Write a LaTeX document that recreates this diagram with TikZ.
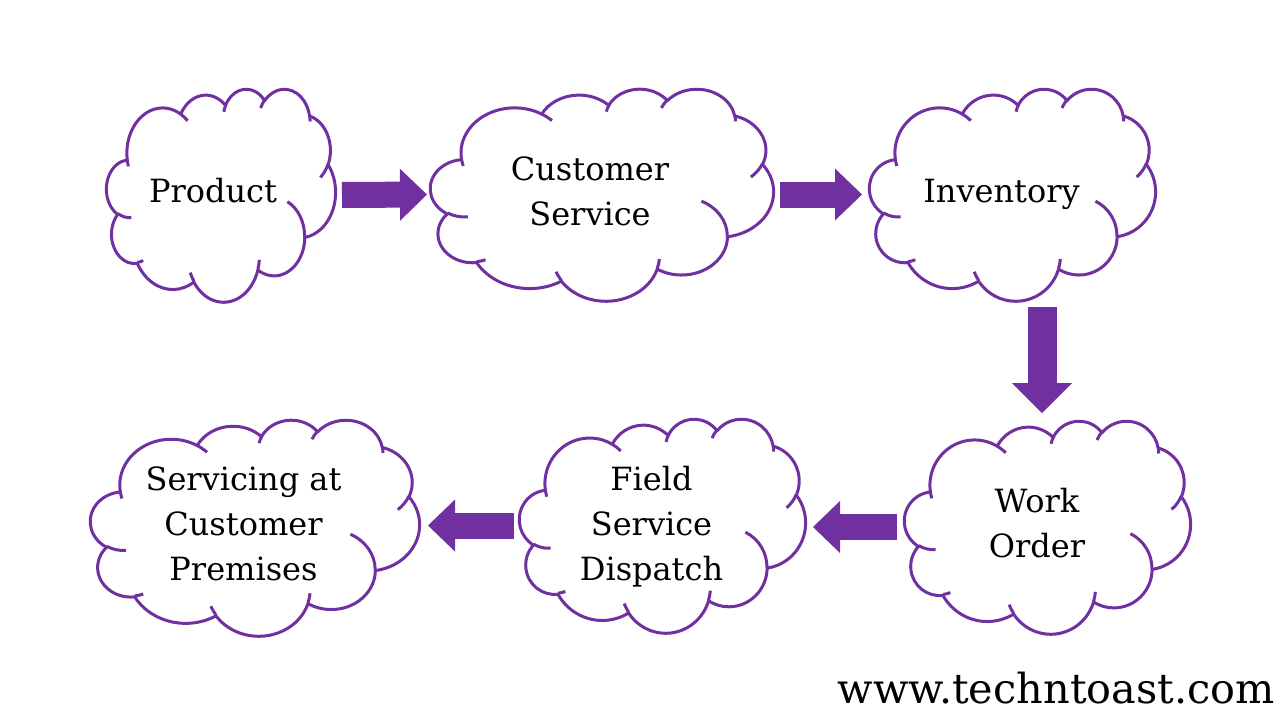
\documentclass[tikz,border=0pt]{standalone}
\usepackage{fontspec}
\setmainfont{DejaVu Serif}
\usepackage{tikz}
\usetikzlibrary{arrows.meta}
\definecolor{cloudpurple}{RGB}{112,48,160}

% one arcTo of the office cloud: wR, hR (path units/100), start and sweep (degrees)
\newcommand\ooarc[4]{%
  \pgfextra{%
    \pgfmathsetmacro\ooS{atan2(#1*sin(#3),#2*cos(#3))}%
    \pgfmathsetmacro\ooE{atan2(#1*sin(#3+#4),#2*cos(#3+#4))}%
    \pgfmathsetmacro\ooD{\ooE-\ooS}%
    \pgfmathsetmacro\ooD{\ooD+360*(\ooD<0)*(#4>0)-360*(\ooD>0)*(#4<0)}%
    \pgfmathsetlengthmacro\ooX{#1*0.5pt}%
    \pgfmathsetlengthmacro\ooY{#2*0.5pt}%
    \global\let\ooS\ooS\global\let\ooD\ooD
    \global\let\ooX\ooX\global\let\ooY\ooY}%
  arc[start angle=\ooS, delta angle=\ooD, x radius=\ooX, y radius=\ooY]}

% cloud outline fitted into a frame node (width, height in px)
\newcommand\cloudat[3]{%
  \begin{scope}[shift={(#1.north west)}, xscale=#2/432, yscale=-#3/432]
    \draw[cloudline, fill=white] (39,143.7)
      \ooarc{67.53}{91.90}{-190.4875}{123.7805}
      \ooarc{53.33}{72.67}{-144.1024}{89.9452}
      \ooarc{43.65}{59.45}{-145.8079}{99.7230}
      \ooarc{48.57}{65.95}{-130.9861}{117.2417}
      \ooarc{53.33}{72.73}{-78.7089}{109.0269}
      \ooarc{67.75}{92.20}{-46.2673}{130.2690}
      \ooarc{57.85}{78.67}{0.6250}{114.0333}
      \ooarc{67.52}{92.15}{22.4516}{115.1726}
      \ooarc{77.20}{105.43}{66.2426}{75.7110}
      \ooarc{43.60}{59.18}{-274.9421}{146.7356}
      \ooarc{43.45}{59.45}{-246.8285}{152.5189} -- cycle;
    % inner hooks
    \draw[cloudline] (46.93,261.77) \ooarc{43.45}{59.45}{86.7420}{26.4295};
    \draw[cloudline] (69.28,348.99) \ooarc{43.60}{59.18}{73.6105}{11.4475};
    \draw[cloudline] (164.78,390.90) \ooarc{67.52}{92.15}{137.6242}{14.0811};
    \draw[cloudline] (288.27,347.51) \ooarc{67.52}{92.15}{6.4533}{15.9984};
    \draw[cloudline] (341.29,229.54) \ooarc{57.85}{78.67}{-70.2924}{70.9174};
    \draw[cloudline] (417.98,153.54) \ooarc{53.33}{72.73}{30.3180}{27.7515};
    \draw[cloudline] (383.24,54.26) \ooarc{48.57}{65.95}{-13.7443}{14.8589};
    \draw[cloudline] (290.78,39.52) \ooarc{48.57}{65.95}{-149.1815}{18.1954};
    \draw[cloudline] (221.41,47.20) \ooarc{43.65}{59.45}{-163.4943}{17.6864};
    \draw[cloudline] (140.00,51.92) \ooarc{67.53}{91.90}{-66.7070}{12.3194};
    \draw[cloudline] (41.27,157.89) \ooarc{67.53}{91.90}{157.6544}{11.8582};
  \end{scope}}

\begin{document}
\begin{tikzpicture}[
  x=0.5pt, y=0.5pt,
  frame/.style={inner sep=0pt, outer sep=0pt},
  cloudline/.style={draw=cloudpurple, line width=1.5pt, line join=round},
  lbl/.style={font=\fontsize{16pt}{22.5pt}\selectfont, align=center, inner sep=0pt},
  flow/.style={cloudpurple, line width=13pt,
    -{Triangle[width=26pt, length=13.5pt, line width=0pt]}},
  flowdown/.style={cloudpurple, line width=14.5pt,
    -{Triangle[width=30pt, length=15pt, line width=0pt]}}
]
\fill[white] (0,0) rectangle (1280,-720);
\useasboundingbox (0,0) rectangle (1280,-720);

% cloud frames
\node[frame, minimum width=114.5pt, minimum height=106.5pt] (prod) at (221,-195) {};
\node[frame, minimum width=171.5pt, minimum height=106pt] (cs) at (602,-194.5) {};
\node[frame, minimum width=143pt, minimum height=106pt] (inv) at (1012.5,-194.5) {};
\node[frame, minimum width=143pt, minimum height=106.5pt] (wo) at (1047.5,-527) {};
\node[frame, minimum width=143pt, minimum height=107pt] (fsd) at (662.5,-525.5) {};
\node[frame, minimum width=164.5pt, minimum height=108pt] (serv) at (255,-527.5) {};

\cloudat{prod}{229}{213}
\cloudat{cs}{343}{212}
\cloudat{inv}{286}{212}
\cloudat{wo}{286}{213}
\cloudat{fsd}{286}{214}
\cloudat{serv}{329}{216}

% texts
\node[lbl] (prodtxt) at (213,-193) {\strut Product};
\node[lbl] (cstxt) at (590,-193.5) {\strut Customer\\Service\strut};
\node[lbl] (invtxt) at (1001.5,-193) {\strut Inventory};
\node[lbl] (wotxt) at (1037,-525.5) {\strut Work\\Order\strut};
\node[lbl] (fsdtxt) at (651.5,-526) {\strut Field\\Service\\Dispatch\strut};
\node[lbl] (servtxt) at (243.5,-526) {\strut Servicing at\\Customer\\Premises\strut};

% arrows
\coordinate (dropx) at ([xshift=-2.75pt]wo.north);
\draw[flow, shorten <=3.25pt, shorten >=1.75pt] (prod.east) -- (cs.west);
\draw[flow, shorten <=3.25pt, shorten >=3.75pt] (cs.east) -- (inv.west);
\draw[flowdown, shorten <=3.25pt, shorten >=3.75pt] (dropx |- inv.south) -- (dropx);
\draw[flow, shorten <=3.75pt, shorten >=3.75pt] (wo.west) -- (fsd.east |- wo.west);
\draw[flow, shorten <=2.75pt, shorten >=4.25pt] (fsd.west) -- (serv.east |- fsd.west);

\node[font=\fontsize{20.7pt}{24pt}\selectfont, anchor=base east, inner sep=0pt]
  (site) at (1275,-703) {www.techntoast.com};
\end{tikzpicture}
\end{document}
